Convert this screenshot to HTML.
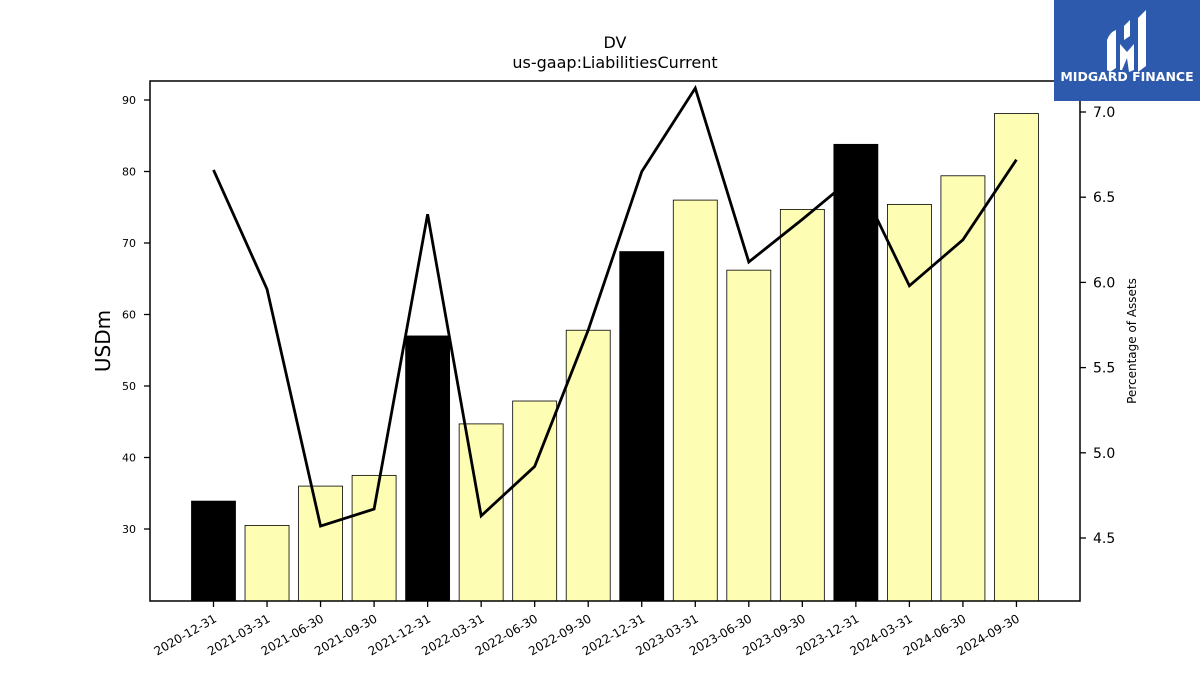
<!DOCTYPE html>
<html><head><meta charset="utf-8"><style>
body{margin:0;background:#fff;font-family:"Liberation Sans","DejaVu Sans",sans-serif}
</style></head><body>
<svg id="chart" width="1200" height="675" xmlns="http://www.w3.org/2000/svg" font-family="DejaVu Sans, Liberation Sans, sans-serif">
<text x="615" y="48" text-anchor="middle" font-size="16">DV</text>
<text x="615" y="68" text-anchor="middle" font-size="16">us-gaap:LiabilitiesCurrent</text>
<g id="bars"></g><g id="line"></g>
<rect x="150" y="81" width="930" height="520" fill="none" stroke="#000" stroke-width="1.5"/>
<g id="axes"></g>
<text transform="translate(110,341) rotate(-90)" text-anchor="middle" font-size="20">USDm</text>
<text transform="translate(1136,341) rotate(-90)" text-anchor="middle" font-size="12">Percentage of Assets</text>
<g>
<rect x="1054" y="0" width="146" height="101" fill="#2d5aac"/>
<path d="M1107 40 Q1110 32 1116 30 L1116 68 L1110 72 L1107 70 Z" fill="#fff"/>
<path d="M1124 26 L1130 20 L1130 36 L1124 40 Z" fill="#fff"/>
<path d="M1120 44 L1127 52 L1134 44 L1134 70 L1129 72 L1127 58 L1122 70 L1120 70 Z" fill="#fff"/>
<path d="M1138 18 L1146 10 L1146 66 L1138 72 Z" fill="#fff"/>
<text x="1127" y="81" text-anchor="middle" fill="#fff" font-size="12.5" font-weight="bold">MIDGARD FINANCE</text>
</g>
</svg>
<script>
const categories=["2020-12-31","2021-03-31","2021-06-30","2021-09-30","2021-12-31","2022-03-31","2022-06-30","2022-09-30","2022-12-31","2023-03-31","2023-06-30","2023-09-30","2023-12-31","2024-03-31","2024-06-30","2024-09-30"];
const barValues=[33.9,30.5,36.0,37.5,57.0,44.7,47.9,57.8,68.8,76.0,66.2,74.7,83.8,75.4,79.4,88.1];
const pctValues=[6.66,5.96,4.57,4.67,6.40,4.63,4.92,5.72,6.65,7.14,6.12,6.37,6.63,5.98,6.25,6.72];
const leftTicks=[30,40,50,60,70,80,90];
const rightTicks=[4.5,5.0,5.5,6.0,6.5,7.0];
const ns="http://www.w3.org/2000/svg";
const yL=v=>601-(v-19.93)*7.15;
const yR=v=>538-(v-4.5)*170.4;
const xC=i=>213.5+i*53.53;
function mk(t,a,p){const e=document.createElementNS(ns,t);for(const k in a)e.setAttribute(k,a[k]);p.appendChild(e);return e;}
const bars=document.getElementById('bars'),line=document.getElementById('line'),axes=document.getElementById('axes');
barValues.forEach((v,i)=>{const r=mk('rect',{x:xC(i)-22,y:yL(v),width:44,height:601-yL(v),fill:i%4==0?'#000':'#fdfdb3',stroke:'#000','stroke-width':0.8},bars);

});
const pl=mk('polyline',{points:pctValues.map((v,i)=>xC(i)+','+yR(v)).join(' '),fill:'none',stroke:'#000','stroke-width':2.8},line);


categories.forEach((c,i)=>{mk('line',{x1:xC(i),x2:xC(i),y1:601,y2:607,stroke:'#000','stroke-width':1.3},axes);
const t=mk('text',{transform:`translate(${xC(i)+4},${621}) rotate(-30)`,'text-anchor':'end','font-size':12},axes);t.textContent=c;

});
leftTicks.forEach(v=>{mk('line',{x1:144,x2:150,y1:yL(v),y2:yL(v),stroke:'#000','stroke-width':1.3},axes);
const t=mk('text',{x:136,y:yL(v)+4,'text-anchor':'end','font-size':11},axes);t.textContent=v;

});
rightTicks.forEach(v=>{mk('line',{x1:1080,x2:1086,y1:yR(v),y2:yR(v),stroke:'#000','stroke-width':1.3},axes);
const t=mk('text',{x:1093,y:yR(v)+5,'font-size':14},axes);t.textContent=v.toFixed(1);

});
</script>
</body></html>
